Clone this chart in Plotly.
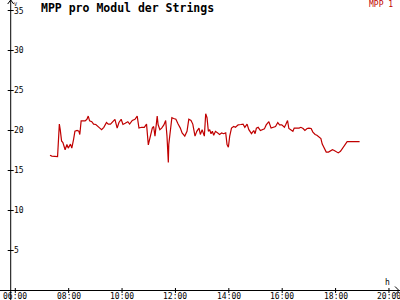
import plotly.graph_objects as go

# ---- data ----
times = ["07:18","07:22","07:35","07:36","07:37","07:39","07:41","07:44","07:47","07:52","07:56","07:59",
         "08:04","08:07","08:11","08:14","08:19","08:23","08:25","08:28","08:37","08:41","08:44","08:47",
         "08:52","08:56","09:01","09:05","09:10","09:14","09:19","09:25","09:29","09:34","09:38","09:44",
         "09:49","09:53","09:58","10:02","10:07","10:13","10:17","10:23","10:29","10:34","10:38","10:44",
         "10:50","10:55","10:59","11:02","11:05","11:08","11:11","11:14","11:19","11:21","11:25","11:29",
         "11:34","11:38","11:41","11:44","11:45","11:48","11:52","11:56","12:01","12:06","12:11","12:15",
         "12:21","12:26","12:30","12:35","12:39","12:44","12:48","12:53","12:56","13:00","13:05","13:08",
         "13:11","13:14","13:17","13:20","13:23","13:26","13:30","13:35","13:39","13:44","13:48","13:53",
         "13:56","13:59","14:02","14:06","14:11","14:15","14:21","14:27","14:32","14:36","14:41","14:45",
         "14:51","14:56","14:59","15:02","15:06","15:11","15:15","15:20","15:24","15:30","15:35","15:41",
         "15:45","15:50","15:54","15:59","16:05","16:08","16:12","16:15","16:20","16:24","16:27","16:33",
         "16:38","16:42","16:47","16:51","16:56","17:00","17:05","17:09","17:14","17:18","17:23","17:27",
         "17:30","17:35","17:39","17:44","17:48","17:53","17:57","18:02","18:06","18:11","18:15","18:20",
         "18:26","18:54"]
mpp1 = [16.9,16.8,16.75,17.8,19.7,20.8,20.1,18.7,18.5,17.6,18.25,17.8,
        18.3,17.8,18.9,19.9,20.0,19.9,19.5,21.2,21.2,21.4,21.8,21.2,
        21.1,20.8,20.75,20.5,20.3,20.1,20.4,21.0,20.8,20.8,21.0,21.4,
        20.3,21.0,21.4,20.75,20.9,21.1,20.8,21.25,21.4,21.8,20.3,20.4,
        20.4,20.8,18.2,18.9,19.9,20.3,20.5,19.3,21.8,20.75,20.1,20.3,
        20.7,21.25,19.3,16.0,18.25,19.9,21.6,21.5,21.4,20.8,20.3,19.7,
        19.3,19.9,21.4,21.25,20.8,19.3,19.9,20.3,19.5,20.1,19.3,22.1,
        21.6,19.9,20.1,19.6,19.9,19.4,19.9,19.7,19.5,19.7,19.6,19.7,
        18.25,17.9,19.3,20.3,20.5,20.4,20.7,20.75,20.8,20.4,20.8,20.1,
        19.6,20.0,19.6,20.3,20.4,20.0,20.1,20.2,20.7,21.1,20.3,20.4,
        20.5,21.0,20.7,20.7,20.4,20.75,21.25,20.25,20.0,19.9,20.3,20.3,
        20.3,20.4,20.25,20.0,20.25,20.3,20.25,19.8,19.5,19.4,19.2,19.0,
        18.3,17.75,17.3,17.3,17.4,17.6,17.5,17.3,17.2,17.4,17.75,18.2,
        18.6,18.6]
x_ticks = ["06:00","08:00","10:00","12:00","14:00","16:00","18:00","20:00"]
y_ticks = [5,10,15,20,25,30,35]
series_name = "MPP 1"
title = "MPP pro Modul der Strings"

DAY = "2024-01-01 "
def t(s):
    return DAY + s

# ---- geometry ----
W, H = 400, 300
PX_PER_H = 26.69
PX_PER_V = 8.0
Y0_PX = 290.5
x_left_h = 6 - 15.3 / PX_PER_H
x_right_h = x_left_h + W / PX_PER_H
def htime(h):
    hh = int(h); mm = (h - hh) * 60; m = int(mm); s = int(round((mm - m) * 60))
    if s == 60: m += 1; s = 0
    return DAY + f"{hh:02d}:{m:02d}:{s:02d}"
y_top = Y0_PX / PX_PER_V
y_bot = -(H - Y0_PX) / PX_PER_V
yaxis_h = 6 - 4.6 / PX_PER_H
YAX = htime(yaxis_h)

RED = "#c00000"
FONT = "DejaVu Sans Mono"

fig = go.Figure()
fig.add_trace(go.Scatter(x=[t(s) for s in times], y=mpp1, mode="lines",
                         line=dict(color=RED, width=1.2), name=series_name))

shapes = []
ln = dict(color="black", width=1)
# x axis
shapes.append(dict(type="line", xref="paper", yref="y", x0=0, x1=1, y0=0, y1=0, line=ln))
# x arrow head
ah = 4 / PX_PER_V
shapes.append(dict(type="line", xref="paper", yref="y", x0=399/W, x1=395/W, y0=0, y1=ah, line=ln))
shapes.append(dict(type="line", xref="paper", yref="y", x0=399/W, x1=395/W, y0=0, y1=-ah, line=ln))
# y axis
shapes.append(dict(type="line", xref="x", yref="paper", x0=YAX, x1=YAX, y0=0, y1=1, line=ln))
# y arrow head
shapes.append(dict(type="line", xref="x", yref="paper", x0=YAX, x1=htime(yaxis_h - 3/PX_PER_H), y0=1, y1=1-4/H, line=ln))
shapes.append(dict(type="line", xref="x", yref="paper", x0=YAX, x1=htime(yaxis_h + 3/PX_PER_H), y0=1, y1=1-4/H, line=ln))
# x ticks
for s in x_ticks:
    shapes.append(dict(type="line", xref="x", yref="y", x0=t(s), x1=t(s), y0=-2.5/PX_PER_V, y1=2.5/PX_PER_V, line=ln))
# y ticks
for v in y_ticks:
    shapes.append(dict(type="line", xref="x", yref="y", x0=htime(yaxis_h - 3/PX_PER_H),
                       x1=htime(yaxis_h + 3/PX_PER_H), y0=v, y1=v, line=ln))

ann = []
for s in x_ticks:
    ann.append(dict(x=t(s), y=0, xref="x", yref="y", text=s, showarrow=False,
                    xanchor="center", yanchor="middle", yshift=-6,
                    font=dict(family=FONT, size=8, color="black")))
for v in y_ticks:
    ann.append(dict(x=YAX, y=v, xref="x", yref="y", text=str(v), showarrow=False,
                    xanchor="left", yanchor="middle", xshift=2, borderpad=0,
                    yshift=(-1 if v == 35 else 0),
                    font=dict(family=FONT, size=8, color="black")))
ann.append(dict(x=YAX, y=1, xref="x", yref="paper", text="V", showarrow=False,
                xanchor="left", yanchor="top", xshift=2, borderpad=0,
                font=dict(family=FONT, size=5, color="black")))
ann.append(dict(x=387/W, y=1-282/H, xref="paper", yref="paper", text="h", showarrow=False,
                xanchor="center", yanchor="middle",
                font=dict(family=FONT, size=8, color="black")))
ann.append(dict(x=39/W, y=1-7.5/H, xref="paper", yref="paper", text="<b>" + title + "</b>",
                showarrow=False, xanchor="left", yanchor="middle",
                font=dict(family=FONT, size=11.5, color="black")))
ann.append(dict(x=395/W, y=1-4.5/H, xref="paper", yref="paper", text=series_name,
                showarrow=False, xanchor="right", yanchor="middle",
                font=dict(family=FONT, size=8, color=RED)))

fig.update_layout(
    width=W, height=H, margin=dict(l=0, r=0, t=0, b=0),
    paper_bgcolor="white", plot_bgcolor="white", showlegend=False,
    xaxis=dict(type="date", range=[htime(x_left_h), htime(x_right_h)], visible=False),
    yaxis=dict(range=[y_bot, y_top], visible=False),
    shapes=shapes, annotations=ann,
)
fig.write_html("out.html")
